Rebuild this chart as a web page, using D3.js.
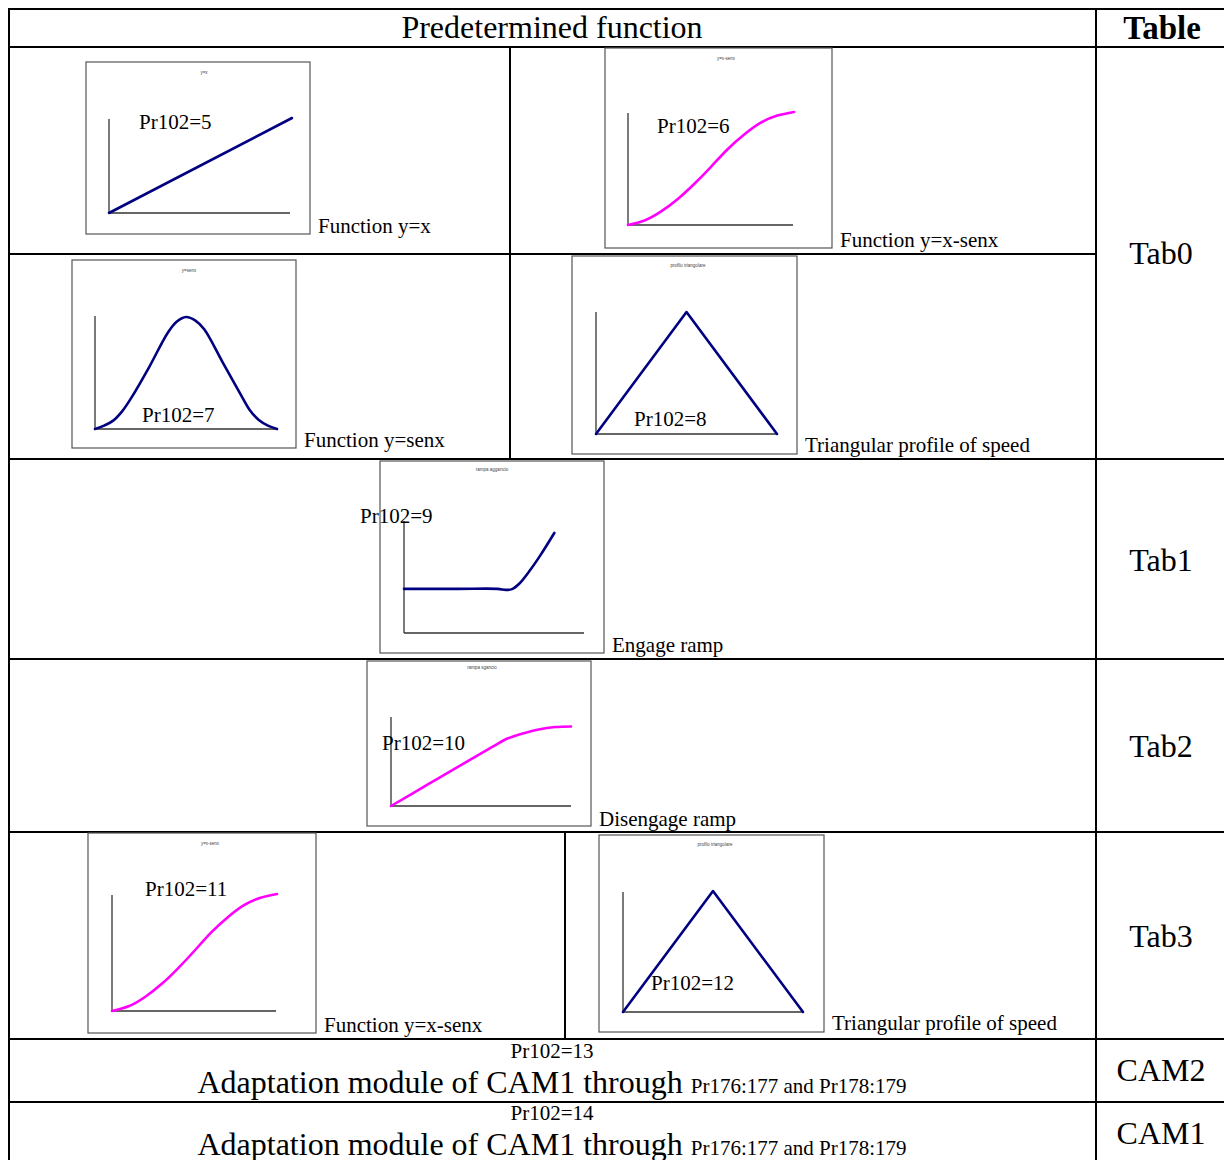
<!DOCTYPE html>
<html>
<head>
<meta charset="utf-8">
<script src="https://cdn.jsdelivr.net/npm/d3@7"></script>
<style>
  html, body { margin: 0; padding: 0; background: #fff; }
  svg { display: block; }
  text { font-family: "Liberation Serif", "Times New Roman", serif; fill: #000; }
  .tiny { font-family: "Liberation Sans", Arial, sans-serif; fill: #444; }
</style>
</head>
<body>
<svg id="chart" width="1224" height="1160"></svg>
<script>
// ---------------- data ----------------
const headerLabels = ["Predetermined function", "Table"];
const tableNames = ["Tab0", "Tab1", "Tab2", "Tab3", "CAM2", "CAM1"];
const panelTitles = ["y=x", "y=x-senx", "y=senx", "profilo triangolare",
                     "rampa aggancio", "rampa sgancio", "y=x-senx", "profilo triangolare"];
const panelLabels = ["Pr102=5", "Pr102=6", "Pr102=7", "Pr102=8",
                     "Pr102=9", "Pr102=10", "Pr102=11", "Pr102=12"];
const panelCaptions = ["Function y=x", "Function y=x-senx", "Function y=senx",
                       "Triangular profile of speed", "Engage ramp", "Disengage ramp",
                       "Function y=x-senx", "Triangular profile of speed"];
const camLabels = ["Pr102=13", "Pr102=14"];
const camTextMain = "Adaptation module of CAM1 through ";
const camTextSmall = "Pr176:177 and Pr178:179";

// curve shapes (normalised x / y)
const linearX = [0, 1];
const linearY = [0, 1];
const sigmoidX = [0, 0.1, 0.2, 0.3, 0.4, 0.5, 0.6, 0.7, 0.8, 0.9, 1.0];
const sigmoidY = [0, 0.04, 0.12, 0.23, 0.365, 0.515, 0.67, 0.8, 0.905, 0.968, 1.0];
const bellX = [0, 0.05, 0.1, 0.15, 0.2, 0.3, 0.4, 0.45, 0.5, 0.55, 0.6, 0.7, 0.8, 0.85, 0.9, 0.95, 1.0];
const bellY = [0, 0.03, 0.075, 0.16, 0.28, 0.56, 0.86, 0.96, 1.0, 0.97, 0.89, 0.6, 0.31, 0.17, 0.08, 0.03, 0];
const triangleX = [0, 0.5, 1];
const triangleY = [0, 1, 0];
const engageX = [0, 0.3, 0.52, 0.565, 0.6, 0.64, 0.7, 0.76, 0.835];
const engageY = [0.394, 0.394, 0.394, 0.385, 0.392, 0.44, 0.56, 0.7, 0.893];
const disengageX = [0, 0.2, 0.4, 0.57, 0.635, 0.727, 0.82, 0.913, 1.0];
const disengageY = [0, 0.236, 0.472, 0.672, 0.747, 0.811, 0.86, 0.887, 0.894];

const shapes = [
  [linearX, linearY, "linear"], [sigmoidX, sigmoidY, "natural"], [bellX, bellY, "smooth"],
  [triangleX, triangleY, "linear"], [engageX, engageY, "smooth"], [disengageX, disengageY, "smooth"],
  [sigmoidX, sigmoidY, "natural"], [triangleX, triangleY, "linear"]
];
const panelColors = ["#000080", "#ff00ff", "#000080", "#000080", "#000080", "#ff00ff", "#ff00ff", "#000080"];

// ---------------- layout ----------------
const panels = [
  {frame:[86,62,310,234],  title:[204,74],  ax:[109,213,290,119], cv:[292,118], label:[139,129], cap:[318,233]},
  {frame:[605,48,832,248], title:[726,60],  ax:[628,225,793,113], cv:[794,112], label:[657,133], cap:[840,247]},
  {frame:[72,260,296,448], title:[189,272], ax:[95,429,277,316],  cv:[277,317], label:[142,422], cap:[304,447]},
  {frame:[572,256,797,454],title:[688,267], ax:[596,434,777,312], cv:[777,312], label:[634,426], cap:[805,452]},
  {frame:[380,461,604,653],title:[492,471], ax:[404,633,584,521], cv:[584,521], label:[360,523], cap:[612,652]},
  {frame:[367,661,591,826],title:[482,669], ax:[391,806,571,717], cv:[571,717], label:[382,750], cap:[599,826]},
  {frame:[88,833,316,1033],title:[210,845], ax:[112,1011,276,895],cv:[277,894], label:[145,896], cap:[324,1032]},
  {frame:[599,835,824,1032],title:[715,846],ax:[623,1012,803,892],cv:[803,891], label:[651,990], cap:[832,1030]}
];

const svg = d3.select("#chart");
const L = 9, R = 1224, T = 9, colX = 1096, B = 1160;

// table grid
const hLines = [[L, R, T], [L, R, 47], [L, colX, 254], [L, R, 459], [L, R, 659], [L, R, 832], [L, R, 1039], [L, R, 1102]];
const vLines = [[L, T, B], [colX, T, B], [510, 47, 459], [565, 832, 1039]];
svg.append("g").selectAll("line.h").data(hLines).join("line")
  .attr("x1", d => d[0] - 1).attr("x2", d => d[1] + 1).attr("y1", d => d[2]).attr("y2", d => d[2])
  .attr("stroke", "#000").attr("stroke-width", 2);
svg.append("g").selectAll("line.v").data(vLines).join("line")
  .attr("x1", d => d[0]).attr("x2", d => d[0]).attr("y1", d => d[1] - 1).attr("y2", d => d[2] + 1)
  .attr("stroke", "#000").attr("stroke-width", 2);

// header
svg.append("text").attr("x", 552).attr("y", 38).attr("text-anchor", "middle")
  .attr("font-size", 32).text(headerLabels[0]);
svg.append("text").attr("x", 1162).attr("y", 39).attr("text-anchor", "middle")
  .attr("font-size", 33).attr("font-weight", "bold").text(headerLabels[1]);

// table names
const tabBaselines = [264, 571, 757, 947, 1081, 1144];
svg.append("g").selectAll("text").data(tableNames).join("text")
  .attr("x", 1161).attr("y", (d, i) => tabBaselines[i]).attr("text-anchor", "middle")
  .attr("font-size", 32).text(d => d);

// panels
const curves = { linear: d3.curveLinear, smooth: d3.curveCatmullRom.alpha(0.5), natural: d3.curveNatural };
panels.forEach((p, i) => {
  const g = svg.append("g");
  const [fx0, fy0, fx1, fy1] = p.frame;
  g.append("rect").attr("x", fx0).attr("y", fy0).attr("width", fx1 - fx0).attr("height", fy1 - fy0)
    .attr("fill", "#fff").attr("stroke", "#555").attr("stroke-width", 1.2);
  g.append("text").attr("class", "tiny").attr("x", p.title[0]).attr("y", p.title[1])
    .attr("text-anchor", "middle").attr("font-size", 4.5).text(panelTitles[i]);
  const [ax0, ay0, ax1, ay1] = p.ax;
  g.append("line").attr("x1", ax0).attr("x2", ax0).attr("y1", ay1).attr("y2", ay0)
    .attr("stroke", "#333").attr("stroke-width", 1.3);
  g.append("line").attr("x1", ax0).attr("x2", ax1).attr("y1", ay0).attr("y2", ay0)
    .attr("stroke", "#333").attr("stroke-width", 1.3);
  const x = d3.scaleLinear().domain([0, 1]).range([ax0, p.cv[0]]);
  const y = d3.scaleLinear().domain([0, 1]).range([ay0, p.cv[1]]);
  const [xs, ys, kind] = shapes[i];
  const pts = xs.map((v, k) => [v, ys[k]]);
  const line = d3.line().x(d => x(d[0])).y(d => y(d[1])).curve(curves[kind]);
  g.append("path").attr("d", line(pts)).attr("fill", "none")
    .attr("stroke", panelColors[i]).attr("stroke-width", 2.6)
    .attr("stroke-linejoin", "round").attr("stroke-linecap", "round");
  g.append("text").attr("x", p.label[0]).attr("y", p.label[1]).attr("font-size", 21).text(panelLabels[i]);
  svg.append("text").attr("x", p.cap[0]).attr("y", p.cap[1]).attr("font-size", 21).text(panelCaptions[i]);
});

// CAM rows
const camBase = [[1058, 1093], [1120, 1155]];
camLabels.forEach((lab, i) => {
  svg.append("text").attr("x", 552).attr("y", camBase[i][0]).attr("text-anchor", "middle")
    .attr("font-size", 21).text(lab);
  const t = svg.append("text").attr("x", 552).attr("y", camBase[i][1]).attr("text-anchor", "middle");
  t.append("tspan").attr("font-size", 32).text(camTextMain);
  t.append("tspan").attr("font-size", 21).text(camTextSmall);
});
</script>
</body>
</html>
